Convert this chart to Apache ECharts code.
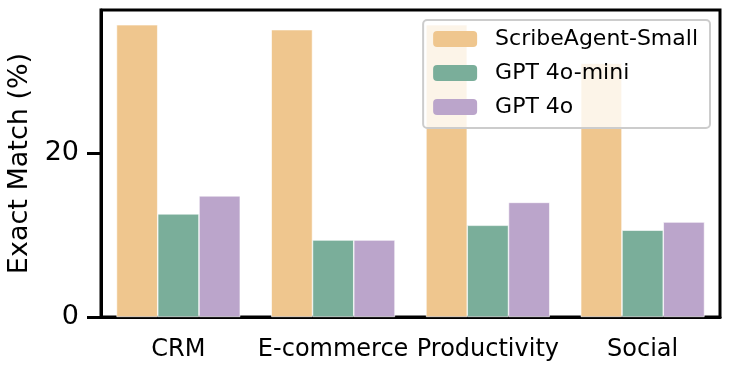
<!DOCTYPE html>
<html>
<head>
<meta charset="utf-8">
<script src="https://cdn.jsdelivr.net/npm/echarts@6/dist/echarts.min.js"></script>
<style>
  html, body { margin: 0; padding: 0; background: #fff; }
  #chart { width: 730px; height: 373px; }
</style>
</head>
<body>
<div id="chart"></div>
<script>
// 数据
const categories = ['CRM', 'E-commerce', 'Productivity', 'Social'];
const scribeSmall = [35.7, 35.1, 35.7, 31.0];
const gpt4oMini = [12.6, 9.4, 11.2, 10.6];
const gpt4o = [14.8, 9.4, 14.0, 11.6];
const yTicks = [0, 20];

const FONT = 'DejaVu Sans';

let myChart = echarts.init(document.getElementById('chart'));

function bar(name, data, color) {
    return {
        name: name,
        type: 'bar',
        data: data,
        barGap: '0%',
        barCategoryGap: '20%',
        itemStyle: {
            color: color,
            borderColor: '#fff',
            borderWidth: 0.6,
        },
    };
}

let option = {
    animation: false,
    textStyle: { fontFamily: FONT },
    grid: {
        left: 101, right: 10, top: 10, bottom: 56,
        outerBoundsMode: 'none',
        show: true,
        borderColor: '#000',
        borderWidth: 3,
    },
    legend: {
        orient: 'vertical',
        right: 20,
        top: 20,
        itemWidth: 44,
        itemHeight: 16,
        itemGap: 12,
        padding: [8, 12, 10, 10],
        backgroundColor: 'rgba(255,255,255,0.8)',
        borderColor: '#cccccc',
        borderWidth: 2,
        borderRadius: 4,
        textStyle: { fontSize: 22, color: '#000', fontFamily: FONT, padding: [0, 0, 0, 13] },
        itemStyle: { borderWidth: 0 },
    },
    xAxis: {
        type: 'category',
        data: categories,
        axisLine: { lineStyle: { color: '#000', width: 3 } },
        axisTick: { alignWithLabel: true, length: 14, lineStyle: { color: '#000', width: 3 } },
        axisLabel: { color: '#000', fontSize: 24, margin: 21, interval: 0 },
    },
    yAxis: {
        type: 'value',
        min: 0,
        max: 37.5,
        interval: 20,
        name: 'Exact Match (%)',
        nameLocation: 'middle',
        nameGap: 65,
        nameTextStyle: { fontSize: 27, color: '#000', fontFamily: FONT },
        axisLine: { show: true, lineStyle: { color: '#000', width: 3 } },
        axisTick: { show: true, length: 14, customValues: yTicks, lineStyle: { color: '#000', width: 3 } },
        axisLabel: { color: '#000', fontSize: 27, margin: 22, customValues: yTicks },
        splitLine: { show: false },
    },
    series: [
        bar('ScribeAgent-Small', scribeSmall, '#efc68e'),
        bar('GPT 4o-mini', gpt4oMini, '#7aae9a'),
        bar('GPT 4o', gpt4o, '#bba5cb'),
    ],
};
myChart.setOption(option);
</script>
</body>
</html>
